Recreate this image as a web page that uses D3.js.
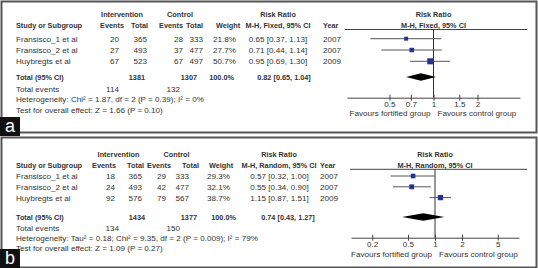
<!DOCTYPE html>
<html>
<head>
<meta charset="utf-8">
<script src="https://cdn.jsdelivr.net/npm/d3@7"></script>
<style>
  body { margin: 0; background: #fff; }
  text { font-family: "Liberation Sans", Arial, sans-serif; fill: #333; }
</style>
</head>
<body>
<div id="chart"></div>
<script>
// shared
const studies = ["Fransisco_1 et al", "Fransisco_2 et al", "Huybregts et al"];
const years = [2007, 2007, 2009];

// panel a (fixed effect)
const intEventsA = [20, 27, 67];
const intTotalA = [365, 493, 523];
const ctlEventsA = [28, 37, 67];
const ctlTotalA = [333, 477, 497];
const weightA = [21.8, 27.7, 50.7];
const rrA = [0.65, 0.71, 0.95];
const loA = [0.37, 0.44, 0.69];
const hiA = [1.13, 1.14, 1.30];
const totalA = {intTotal: 1381, ctlTotal: 1307, intEvents: 114, ctlEvents: 132, rr: 0.82, lo: 0.65, hi: 1.04};
const ticksA = [0.5, 0.7, 1, 1.5, 2];
const hetA = "Heterogeneity: Chi\u00b2 = 1.87, df = 2 (P = 0.39); I\u00b2 = 0%";
const testA = "Test for overall effect: Z = 1.66 (P = 0.10)";

// panel b (random effects)
const intEventsB = [18, 24, 92];
const intTotalB = [365, 493, 576];
const ctlEventsB = [29, 42, 79];
const ctlTotalB = [333, 477, 567];
const weightB = [29.3, 32.1, 38.7];
const rrB = [0.57, 0.55, 1.15];
const loB = [0.32, 0.34, 0.87];
const hiB = [1.00, 0.90, 1.51];
const totalB = {intTotal: 1434, ctlTotal: 1377, intEvents: 134, ctlEvents: 150, rr: 0.74, lo: 0.43, hi: 1.27};
const ticksB = [0.2, 0.5, 1, 2, 5];
const hetB = "Heterogeneity: Tau\u00b2 = 0.18; Chi\u00b2 = 9.35, df = 2 (P = 0.009); I\u00b2 = 79%";
const testB = "Test for overall effect: Z = 1.09 (P = 0.27)";

const W = 538, H = 268;
const svg = d3.select("#chart").append("svg").attr("width", W).attr("height", H);

const fmt2 = d3.format(".2f");
const ciText = (r, l, h) => fmt2(r) + " [" + fmt2(l) + ", " + fmt2(h) + "]";
const boxSize = d3.scaleSqrt().domain([0, 100]).range([0, 8.5]);

function panel(cfg) {
  const g = svg.append("g").attr("transform", "translate(0," + cfg.top + ")");
  g.append("rect").attr("x", 1.5).attr("y", 1.5).attr("width", W - 3).attr("height", cfg.h)
    .attr("fill", "none").attr("stroke", "#555").attr("stroke-width", 2);

  const c = cfg.cols;
  const txt = (x, y, s, anchor, bold) => g.append("text")
    .attr("x", x).attr("y", y + 3).attr("text-anchor", anchor || "start")
    .style("font-size", bold ? "7.3px" : "8.1px").style("font-weight", bold ? "bold" : "normal")
    .text(s);

  // headers
  txt(c.intHead, cfg.h1, "Intervention", "middle", true);
  txt(c.ctlHead, cfg.h1, "Control", "middle", true);
  txt(c.rrHead, cfg.h1, "Risk Ratio", "middle", true);
  txt(cfg.x(1), cfg.h1, "Risk Ratio", "middle", true);
  txt(c.study, cfg.h2, "Study or Subgroup", "start", true);
  txt(c.intEvH, cfg.h2, "Events", "end", true);
  txt(c.intTotH, cfg.h2, "Total", "end", true);
  txt(c.ctlEvH, cfg.h2, "Events", "end", true);
  txt(c.ctlTotH, cfg.h2, "Total", "end", true);
  txt(c.weightH, cfg.h2, "Weight", "middle", true);
  txt(c.rrHead, cfg.h2, cfg.method, "middle", true);
  txt(c.year, cfg.h2, "Year", "start", true);
  txt(cfg.x(1), cfg.h2, cfg.method, "middle", true);

  // header rule over the plot column
  g.append("line").attr("x1", c.rule).attr("x2", W - 11).attr("y1", cfg.rule).attr("y2", cfg.rule)
    .attr("stroke", "#444").attr("stroke-width", 1);

  const y = d3.scaleLinear().domain([0, 1]).range([cfg.row0, cfg.row0 + cfg.step]);

  studies.forEach((s, i) => {
    const yy = y(i);
    txt(c.study, yy, s);
    txt(c.intEv, yy, cfg.intEvents[i], "end");
    txt(c.intTot, yy, cfg.intTotal[i], "end");
    txt(c.ctlEv, yy, cfg.ctlEvents[i], "end");
    txt(c.ctlTot, yy, cfg.ctlTotal[i], "end");
    txt(c.weight, yy, cfg.weight[i].toFixed(1) + "%", "end");
    txt(c.rr, yy, ciText(cfg.rr[i], cfg.lo[i], cfg.hi[i]), "middle");
    txt(c.year, yy, years[i]);
  });

  // totals
  const t = cfg.total;
  txt(c.study, cfg.tot, "Total (95% CI)", "start", true);
  txt(c.intTotT, cfg.tot, t.intTotal, "end", true);
  txt(c.ctlTotT, cfg.tot, t.ctlTotal, "end", true);
  txt(c.weightT, cfg.tot, "100.0%", "end", true);
  txt(c.rrT, cfg.tot, ciText(t.rr, t.lo, t.hi), "middle", true);
  txt(c.study, cfg.totEv, "Total events");
  txt(c.intEvT, cfg.totEv, t.intEvents, "end");
  txt(c.ctlEvT, cfg.totEv, t.ctlEvents, "end");
  txt(c.study, cfg.het, cfg.hetText);
  txt(c.study, cfg.test, cfg.testText);

  // forest plot
  const x = cfg.x;
  g.append("line").attr("x1", x(1)).attr("x2", x(1)).attr("y1", cfg.rule).attr("y2", cfg.axis)
    .attr("stroke", "#333").attr("stroke-width", 1);

  const rows = studies.map((s, i) => ({i: i, rr: cfg.rr[i], lo: cfg.lo[i], hi: cfg.hi[i], w: cfg.weight[i]}));
  g.selectAll(".ci").data(rows).enter().append("line")
    .attr("x1", d => x(d.lo)).attr("x2", d => x(d.hi))
    .attr("y1", d => y(d.i)).attr("y2", d => y(d.i))
    .attr("stroke", "#555").attr("stroke-width", 1);
  g.selectAll(".box").data(rows).enter().append("rect")
    .attr("x", d => x(d.rr) - boxSize(d.w) / 2).attr("y", d => y(d.i) - boxSize(d.w) / 2)
    .attr("width", d => boxSize(d.w)).attr("height", d => boxSize(d.w))
    .attr("fill", "#25338f");

  const dh = 3.8;
  g.append("path")
    .attr("d", "M" + x(t.lo) + "," + cfg.tot + "L" + x(t.rr) + "," + (cfg.tot - dh) +
      "L" + x(t.hi) + "," + cfg.tot + "L" + x(t.rr) + "," + (cfg.tot + dh) + "Z")
    .attr("fill", "#000");

  const ax = g.append("g").attr("transform", "translate(0," + cfg.axis + ")")
    .call(d3.axisBottom(x).tickValues(cfg.ticks).tickSizeOuter(0).tickSizeInner(3)
      .tickFormat(d => String(d)));
  ax.select(".domain").attr("stroke", "#444");
  ax.selectAll(".tick line").attr("y1", -3).attr("y2", 3).attr("stroke", "#444");
  ax.selectAll(".tick text").attr("y", 4).attr("fill", "#333")
    .style("font-size", "8.1px").style("font-family", "Liberation Sans, Arial, sans-serif");

  txt(x(1) - 3, cfg.fav, "Favours fortified group", "end");
  txt(x(1) + 4, cfg.fav, "Favours control group", "start");

  // panel letter
  svg.append("rect").attr("x", 0).attr("y", cfg.top + cfg.labelY).attr("width", 20).attr("height", 19)
    .attr("fill", "#111");
  svg.append("text").attr("x", 10).attr("y", cfg.top + cfg.labelY + 15).attr("text-anchor", "middle")
    .style("font-size", "18px").style("fill", "#fff").text(cfg.letter);
}

panel({
  top: 0, h: 131, letter: "a", labelY: 117,
  method: "M-H, Fixed, 95% CI",
  x: d3.scaleLog().domain([Math.exp(-1.362), Math.exp(1.362)]).range([347, 520]),
  ticks: ticksA,
  cols: {study: 16, intHead: 122, ctlHead: 180, rrHead: 278,
    intEvH: 124, intTotH: 148, ctlEvH: 183, ctlTotH: 203, weightH: 228,
    intEv: 119, intTot: 147, ctlEv: 183, ctlTot: 203, weight: 236, rr: 278, year: 323,
    intTotT: 145, ctlTotT: 197, weightT: 234, rrT: 284, intEvT: 119, ctlEvT: 180, rule: 345},
  h1: 14, h2: 25, rule: 29.5, row0: 38.7, step: 11.3,
  tot: 77, totEv: 88.5, het: 99, test: 109.5, axis: 97.7, fav: 113,
  intEvents: intEventsA, intTotal: intTotalA, ctlEvents: ctlEventsA, ctlTotal: ctlTotalA,
  weight: weightA, rr: rrA, lo: loA, hi: hiA, total: totalA, hetText: hetA, testText: testA
});

panel({
  top: 136, h: 130, letter: "b", labelY: 113,
  method: "M-H, Random, 95% CI",
  x: d3.scaleLog().domain([Math.exp(-2.154), Math.exp(2.154)]).range([351, 519]),
  ticks: ticksB,
  cols: {study: 16, intHead: 118.5, ctlHead: 176.5, rrHead: 279,
    intEvH: 116, intTotH: 144, ctlEvH: 171, ctlTotH: 199, weightH: 221,
    intEv: 115, intTot: 142, ctlEv: 166, ctlTot: 189, weight: 230, rr: 279.5, year: 320,
    intTotT: 145, ctlTotT: 197, weightT: 236, rrT: 288, intEvT: 119, ctlEvT: 180, rule: 350},
  h1: 18, h2: 28.5, rule: 33.3, row0: 40, step: 10.8,
  tot: 81, totEv: 92, het: 102, test: 112, axis: 101.7, fav: 117.5,
  intEvents: intEventsB, intTotal: intTotalB, ctlEvents: ctlEventsB, ctlTotal: ctlTotalB,
  weight: weightB, rr: rrB, lo: loB, hi: hiB, total: totalB, hetText: hetB, testText: testB
});
</script>
</body>
</html>
